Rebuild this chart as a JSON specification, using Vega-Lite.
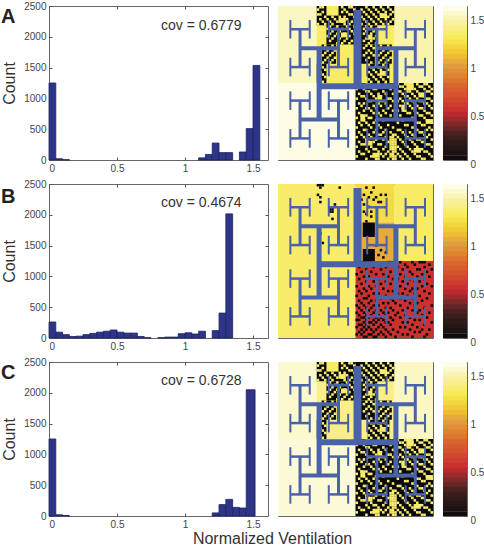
{"$schema":"https://vega.github.io/schema/vega-lite/v6.json","background":"white","padding":0,"bounds":"flush","spacing":{"row":24,"column":10},"columns":3,
"config":{"view":{"stroke":"#666666","strokeWidth":1},"font":"Liberation Sans","axis":{"grid":false,"domain":false,"tickColor":"#555555","tickSize":-3,"zindex":1,"labelFont":"Liberation Sans","labelFontSize":10,"labelColor":"#444444","titleFont":"Liberation Sans","titleFontWeight":"normal","titleFontSize":16,"titleColor":"#333333"}},
"datasets":{
"tree":[{"x":32.33,"x2":32.33,"y":1.16,"y2":32.88,"g":"0"},{"x":16.47,"x2":48.19,"y":32.88,"y2":32.88,"g":"1"},{"x":16.47,"x2":16.47,"y":17.02,"y2":46.67,"g":"2"},{"x":48.19,"x2":48.19,"y":17.02,"y2":46.67,"g":"2"},{"x":8.6,"x2":24.47,"y":17.02,"y2":17.02,"g":"3"},{"x":40.33,"x2":56.19,"y":17.02,"y2":17.02,"g":"3"},{"x":8.6,"x2":24.47,"y":46.67,"y2":46.67,"g":"3"},{"x":40.33,"x2":56.19,"y":46.67,"y2":46.67,"g":"3"},{"x":8.6,"x2":8.6,"y":9.16,"y2":24.88,"g":"4"},{"x":24.47,"x2":24.47,"y":9.16,"y2":24.88,"g":"4"},{"x":40.33,"x2":40.33,"y":9.16,"y2":24.88,"g":"4"},{"x":56.19,"x2":56.19,"y":9.16,"y2":24.88,"g":"4"},{"x":8.6,"x2":8.6,"y":38.81,"y2":54.53,"g":"4"},{"x":24.47,"x2":24.47,"y":38.81,"y2":54.53,"g":"4"},{"x":40.33,"x2":40.33,"y":38.81,"y2":54.53,"g":"4"},{"x":56.19,"x2":56.19,"y":38.81,"y2":54.53,"g":"4"},{"x":4.6,"x2":12.6,"y":9.16,"y2":9.16,"g":"5"},{"x":20.47,"x2":28.47,"y":9.16,"y2":9.16,"g":"5"},{"x":36.33,"x2":44.33,"y":9.16,"y2":9.16,"g":"5"},{"x":52.19,"x2":60.19,"y":9.16,"y2":9.16,"g":"5"},{"x":4.6,"x2":12.6,"y":24.88,"y2":24.88,"g":"5"},{"x":20.47,"x2":28.47,"y":24.88,"y2":24.88,"g":"5"},{"x":36.33,"x2":44.33,"y":24.88,"y2":24.88,"g":"5"},{"x":52.19,"x2":60.19,"y":24.88,"y2":24.88,"g":"5"},{"x":4.6,"x2":12.6,"y":38.81,"y2":38.81,"g":"5"},{"x":20.47,"x2":28.47,"y":38.81,"y2":38.81,"g":"5"},{"x":36.33,"x2":44.33,"y":38.81,"y2":38.81,"g":"5"},{"x":52.19,"x2":60.19,"y":38.81,"y2":38.81,"g":"5"},{"x":4.6,"x2":12.6,"y":54.53,"y2":54.53,"g":"5"},{"x":20.47,"x2":28.47,"y":54.53,"y2":54.53,"g":"5"},{"x":36.33,"x2":44.33,"y":54.53,"y2":54.53,"g":"5"},{"x":52.19,"x2":60.19,"y":54.53,"y2":54.53,"g":"5"},{"x":4.6,"x2":4.6,"y":5.29,"y2":13.02,"g":"6"},{"x":12.6,"x2":12.6,"y":5.29,"y2":13.02,"g":"6"},{"x":20.47,"x2":20.47,"y":5.29,"y2":13.02,"g":"6"},{"x":28.47,"x2":28.47,"y":5.29,"y2":13.02,"g":"6"},{"x":36.33,"x2":36.33,"y":5.29,"y2":13.02,"g":"6"},{"x":44.33,"x2":44.33,"y":5.29,"y2":13.02,"g":"6"},{"x":52.19,"x2":52.19,"y":5.29,"y2":13.02,"g":"6"},{"x":60.19,"x2":60.19,"y":5.29,"y2":13.02,"g":"6"},{"x":4.6,"x2":4.6,"y":21.02,"y2":28.74,"g":"6"},{"x":12.6,"x2":12.6,"y":21.02,"y2":28.74,"g":"6"},{"x":20.47,"x2":20.47,"y":21.02,"y2":28.74,"g":"6"},{"x":28.47,"x2":28.47,"y":21.02,"y2":28.74,"g":"6"},{"x":36.33,"x2":36.33,"y":21.02,"y2":28.74,"g":"6"},{"x":44.33,"x2":44.33,"y":21.02,"y2":28.74,"g":"6"},{"x":52.19,"x2":52.19,"y":21.02,"y2":28.74,"g":"6"},{"x":60.19,"x2":60.19,"y":21.02,"y2":28.74,"g":"6"},{"x":4.6,"x2":4.6,"y":34.95,"y2":42.67,"g":"6"},{"x":12.6,"x2":12.6,"y":34.95,"y2":42.67,"g":"6"},{"x":20.47,"x2":20.47,"y":34.95,"y2":42.67,"g":"6"},{"x":28.47,"x2":28.47,"y":34.95,"y2":42.67,"g":"6"},{"x":36.33,"x2":36.33,"y":34.95,"y2":42.67,"g":"6"},{"x":44.33,"x2":44.33,"y":34.95,"y2":42.67,"g":"6"},{"x":52.19,"x2":52.19,"y":34.95,"y2":42.67,"g":"6"},{"x":60.19,"x2":60.19,"y":34.95,"y2":42.67,"g":"6"},{"x":4.6,"x2":4.6,"y":50.67,"y2":58.4,"g":"6"},{"x":12.6,"x2":12.6,"y":50.67,"y2":58.4,"g":"6"},{"x":20.47,"x2":20.47,"y":50.67,"y2":58.4,"g":"6"},{"x":28.47,"x2":28.47,"y":50.67,"y2":58.4,"g":"6"},{"x":36.33,"x2":36.33,"y":50.67,"y2":58.4,"g":"6"},{"x":44.33,"x2":44.33,"y":50.67,"y2":58.4,"g":"6"},{"x":52.19,"x2":52.19,"y":50.67,"y2":58.4,"g":"6"},{"x":60.19,"x2":60.19,"y":50.67,"y2":58.4,"g":"6"}],
"bar":[{"a":0,"b":0.05,"v":0.025},{"a":0.05,"b":0.11,"v":0.075},{"a":0.1,"b":0.16,"v":0.125},{"a":0.15,"b":0.21,"v":0.175},{"a":0.2,"b":0.26,"v":0.225},{"a":0.25,"b":0.31,"v":0.275},{"a":0.3,"b":0.36,"v":0.325},{"a":0.35,"b":0.41,"v":0.375},{"a":0.4,"b":0.46,"v":0.425},{"a":0.45,"b":0.51,"v":0.475},{"a":0.5,"b":0.56,"v":0.525},{"a":0.55,"b":0.61,"v":0.575},{"a":0.6,"b":0.66,"v":0.625},{"a":0.65,"b":0.71,"v":0.675},{"a":0.7,"b":0.76,"v":0.725},{"a":0.75,"b":0.81,"v":0.775},{"a":0.8,"b":0.86,"v":0.825},{"a":0.85,"b":0.91,"v":0.875},{"a":0.9,"b":0.96,"v":0.925},{"a":0.95,"b":1.01,"v":0.975},{"a":1,"b":1.06,"v":1.025},{"a":1.05,"b":1.11,"v":1.075},{"a":1.1,"b":1.16,"v":1.125},{"a":1.15,"b":1.21,"v":1.175},{"a":1.2,"b":1.26,"v":1.225},{"a":1.25,"b":1.31,"v":1.275},{"a":1.3,"b":1.36,"v":1.325},{"a":1.35,"b":1.41,"v":1.375},{"a":1.4,"b":1.46,"v":1.425},{"a":1.45,"b":1.51,"v":1.475},{"a":1.5,"b":1.56,"v":1.525},{"a":1.55,"b":1.6,"v":1.575}],
"yellow":[{"x":17,"y":0},{"x":18,"y":0},{"x":26,"y":0},{"x":29,"y":0},{"x":30,"y":0},{"x":36,"y":0},{"x":39,"y":0},{"x":42,"y":0},{"x":45,"y":0},{"x":16,"y":1},{"x":27,"y":1},{"x":31,"y":1},{"x":34,"y":1},{"x":37,"y":1},{"x":40,"y":1},{"x":43,"y":1},{"x":46,"y":1},{"x":18,"y":2},{"x":26,"y":2},{"x":28,"y":2},{"x":35,"y":2},{"x":38,"y":2},{"x":41,"y":2},{"x":44,"y":2},{"x":47,"y":2},{"x":16,"y":3},{"x":17,"y":3},{"x":29,"y":3},{"x":30,"y":3},{"x":33,"y":3},{"x":36,"y":3},{"x":39,"y":3},{"x":42,"y":3},{"x":46,"y":3},{"x":19,"y":4},{"x":22,"y":4},{"x":25,"y":4},{"x":27,"y":4},{"x":31,"y":4},{"x":34,"y":4},{"x":37,"y":4},{"x":40,"y":4},{"x":43,"y":4},{"x":45,"y":4},{"x":17,"y":5},{"x":20,"y":5},{"x":23,"y":5},{"x":28,"y":5},{"x":35,"y":5},{"x":38,"y":5},{"x":41,"y":5},{"x":44,"y":5},{"x":47,"y":5},{"x":18,"y":6},{"x":21,"y":6},{"x":24,"y":6},{"x":26,"y":6},{"x":30,"y":6},{"x":33,"y":6},{"x":36,"y":6},{"x":39,"y":6},{"x":42,"y":6},{"x":46,"y":6},{"x":16,"y":7},{"x":19,"y":7},{"x":22,"y":7},{"x":27,"y":7},{"x":29,"y":7},{"x":34,"y":7},{"x":37,"y":7},{"x":40,"y":7},{"x":43,"y":7},{"x":45,"y":7},{"x":21,"y":8},{"x":24,"y":8},{"x":28,"y":8},{"x":31,"y":8},{"x":36,"y":8},{"x":38,"y":8},{"x":20,"y":9},{"x":23,"y":9},{"x":26,"y":9},{"x":29,"y":9},{"x":35,"y":9},{"x":37,"y":9},{"x":40,"y":9},{"x":22,"y":10},{"x":25,"y":10},{"x":30,"y":10},{"x":36,"y":10},{"x":39,"y":10},{"x":21,"y":11},{"x":24,"y":11},{"x":27,"y":11},{"x":31,"y":11},{"x":35,"y":11},{"x":38,"y":11},{"x":20,"y":12},{"x":23,"y":12},{"x":26,"y":12},{"x":29,"y":12},{"x":37,"y":12},{"x":40,"y":12},{"x":22,"y":13},{"x":25,"y":13},{"x":28,"y":13},{"x":36,"y":13},{"x":39,"y":13},{"x":21,"y":14},{"x":27,"y":14},{"x":30,"y":14},{"x":35,"y":14},{"x":38,"y":14},{"x":24,"y":15},{"x":26,"y":15},{"x":29,"y":15},{"x":37,"y":15},{"x":40,"y":15},{"x":19,"y":16},{"x":22,"y":16},{"x":36,"y":16},{"x":38,"y":16},{"x":42,"y":16},{"x":45,"y":16},{"x":18,"y":17},{"x":21,"y":17},{"x":35,"y":17},{"x":39,"y":17},{"x":41,"y":17},{"x":44,"y":17},{"x":20,"y":18},{"x":23,"y":18},{"x":37,"y":18},{"x":43,"y":18},{"x":46,"y":18},{"x":19,"y":19},{"x":22,"y":19},{"x":36,"y":19},{"x":38,"y":19},{"x":42,"y":19},{"x":45,"y":19},{"x":18,"y":20},{"x":21,"y":20},{"x":35,"y":20},{"x":39,"y":20},{"x":41,"y":20},{"x":44,"y":20},{"x":20,"y":21},{"x":23,"y":21},{"x":37,"y":21},{"x":43,"y":21},{"x":46,"y":21},{"x":19,"y":22},{"x":22,"y":22},{"x":36,"y":22},{"x":42,"y":22},{"x":45,"y":22},{"x":18,"y":23},{"x":21,"y":23},{"x":38,"y":23},{"x":41,"y":23},{"x":44,"y":23},{"x":17,"y":24},{"x":37,"y":24},{"x":40,"y":24},{"x":43,"y":24},{"x":16,"y":25},{"x":18,"y":25},{"x":38,"y":25},{"x":41,"y":25},{"x":44,"y":25},{"x":19,"y":26},{"x":39,"y":26},{"x":42,"y":26},{"x":45,"y":26},{"x":17,"y":27},{"x":37,"y":27},{"x":40,"y":27},{"x":43,"y":27},{"x":16,"y":28},{"x":18,"y":28},{"x":38,"y":28},{"x":41,"y":28},{"x":44,"y":28},{"x":19,"y":29},{"x":39,"y":29},{"x":42,"y":29},{"x":45,"y":29},{"x":17,"y":30},{"x":37,"y":30},{"x":40,"y":30},{"x":43,"y":30},{"x":16,"y":31},{"x":18,"y":31},{"x":38,"y":31},{"x":41,"y":31},{"x":44,"y":31},
{"x":33,"y":32},{"x":36,"y":32},{"x":37,"y":32},{"x":41,"y":32},{"x":44,"y":32},{"x":48,"y":32},{"x":49,"y":32},{"x":52,"y":32},{"x":53,"y":32},{"x":54,"y":32},{"x":57,"y":32},{"x":60,"y":32},{"x":61,"y":32},{"x":34,"y":33},{"x":38,"y":33},{"x":42,"y":33},{"x":45,"y":33},{"x":50,"y":33},{"x":51,"y":33},{"x":55,"y":33},{"x":58,"y":33},{"x":59,"y":33},{"x":62,"y":33},{"x":32,"y":34},{"x":35,"y":34},{"x":39,"y":34},{"x":40,"y":34},{"x":46,"y":34},{"x":48,"y":34},{"x":52,"y":34},{"x":56,"y":34},{"x":60,"y":34},{"x":63,"y":34},{"x":36,"y":35},{"x":37,"y":35},{"x":43,"y":35},{"x":49,"y":35},{"x":50,"y":35},{"x":53,"y":35},{"x":54,"y":35},{"x":57,"y":35},{"x":61,"y":35},{"x":62,"y":35},{"x":33,"y":36},{"x":38,"y":36},{"x":41,"y":36},{"x":44,"y":36},{"x":47,"y":36},{"x":51,"y":36},{"x":55,"y":36},{"x":58,"y":36},{"x":59,"y":36},{"x":63,"y":36},{"x":34,"y":37},{"x":35,"y":37},{"x":39,"y":37},{"x":42,"y":37},{"x":48,"y":37},{"x":52,"y":37},{"x":53,"y":37},{"x":56,"y":37},{"x":60,"y":37},{"x":32,"y":38},{"x":36,"y":38},{"x":40,"y":38},{"x":45,"y":38},{"x":46,"y":38},{"x":50,"y":38},{"x":54,"y":38},{"x":57,"y":38},{"x":61,"y":38},{"x":62,"y":38},{"x":37,"y":39},{"x":38,"y":39},{"x":43,"y":39},{"x":47,"y":39},{"x":49,"y":39},{"x":51,"y":39},{"x":55,"y":39},{"x":58,"y":39},{"x":59,"y":39},{"x":63,"y":39},{"x":33,"y":40},{"x":35,"y":40},{"x":41,"y":40},{"x":44,"y":40},{"x":52,"y":40},{"x":53,"y":40},{"x":56,"y":40},{"x":60,"y":40},{"x":61,"y":40},{"x":34,"y":41},{"x":39,"y":41},{"x":42,"y":41},{"x":46,"y":41},{"x":48,"y":41},{"x":50,"y":41},{"x":54,"y":41},{"x":57,"y":41},{"x":62,"y":41},{"x":32,"y":42},{"x":36,"y":42},{"x":37,"y":42},{"x":40,"y":42},{"x":45,"y":42},{"x":51,"y":42},{"x":55,"y":42},{"x":58,"y":42},{"x":59,"y":42},{"x":63,"y":42},{"x":35,"y":43},{"x":38,"y":43},{"x":43,"y":43},{"x":47,"y":43},{"x":49,"y":43},{"x":52,"y":43},{"x":56,"y":43},{"x":60,"y":43},{"x":33,"y":44},{"x":39,"y":44},{"x":41,"y":44},{"x":44,"y":44},{"x":53,"y":44},{"x":54,"y":44},{"x":57,"y":44},{"x":61,"y":44},{"x":62,"y":44},{"x":34,"y":45},{"x":36,"y":45},{"x":42,"y":45},{"x":46,"y":45},{"x":50,"y":45},{"x":58,"y":45},{"x":59,"y":45},{"x":63,"y":45},{"x":32,"y":46},{"x":37,"y":46},{"x":38,"y":46},{"x":55,"y":46},{"x":60,"y":46},{"x":35,"y":47},{"x":40,"y":47},{"x":43,"y":47},{"x":51,"y":47},{"x":56,"y":47},{"x":61,"y":47},{"x":62,"y":47},{"x":33,"y":48},{"x":36,"y":48},{"x":39,"y":48},{"x":49,"y":48},{"x":57,"y":48},{"x":58,"y":48},{"x":63,"y":48},{"x":34,"y":49},{"x":37,"y":49},{"x":41,"y":49},{"x":45,"y":49},{"x":52,"y":49},{"x":53,"y":49},{"x":59,"y":49},{"x":60,"y":49},{"x":32,"y":50},{"x":38,"y":50},{"x":42,"y":50},{"x":47,"y":50},{"x":55,"y":50},{"x":56,"y":50},{"x":62,"y":50},{"x":35,"y":51},{"x":36,"y":51},{"x":40,"y":51},{"x":44,"y":51},{"x":49,"y":51},{"x":50,"y":51},{"x":57,"y":51},{"x":61,"y":51},{"x":63,"y":51},{"x":33,"y":52},{"x":39,"y":52},{"x":43,"y":52},{"x":46,"y":52},{"x":51,"y":52},{"x":54,"y":52},{"x":58,"y":52},{"x":59,"y":52},{"x":34,"y":53},{"x":37,"y":53},{"x":41,"y":53},{"x":42,"y":53},{"x":47,"y":53},{"x":48,"y":53},{"x":52,"y":53},{"x":55,"y":53},{"x":60,"y":53},{"x":62,"y":53},{"x":32,"y":54},{"x":35,"y":54},{"x":38,"y":54},{"x":44,"y":54},{"x":46,"y":54},{"x":47,"y":54},{"x":49,"y":54},{"x":53,"y":54},{"x":56,"y":54},{"x":61,"y":54},{"x":36,"y":55},{"x":40,"y":55},{"x":43,"y":55},{"x":46,"y":55},{"x":47,"y":55},{"x":48,"y":55},{"x":50,"y":55},{"x":54,"y":55},{"x":57,"y":55},{"x":58,"y":55},{"x":63,"y":55},{"x":33,"y":56},{"x":37,"y":56},{"x":39,"y":56},{"x":45,"y":56},{"x":46,"y":56},{"x":47,"y":56},{"x":48,"y":56},{"x":51,"y":56},{"x":55,"y":56},{"x":59,"y":56},{"x":60,"y":56},{"x":34,"y":57},{"x":35,"y":57},{"x":41,"y":57},{"x":42,"y":57},{"x":46,"y":57},{"x":47,"y":57},{"x":48,"y":57},{"x":52,"y":57},{"x":56,"y":57},{"x":61,"y":57},{"x":62,"y":57},{"x":32,"y":58},{"x":38,"y":58},{"x":44,"y":58},{"x":46,"y":58},{"x":47,"y":58},{"x":48,"y":58},{"x":49,"y":58},{"x":53,"y":58},{"x":57,"y":58},{"x":63,"y":58},{"x":36,"y":59},{"x":39,"y":59},{"x":40,"y":59},{"x":43,"y":59},{"x":46,"y":59},{"x":47,"y":59},{"x":48,"y":59},{"x":50,"y":59},{"x":54,"y":59},{"x":58,"y":59},{"x":59,"y":59},{"x":33,"y":60},{"x":37,"y":60},{"x":41,"y":60},{"x":45,"y":60},{"x":47,"y":60},{"x":48,"y":60},{"x":51,"y":60},{"x":55,"y":60},{"x":60,"y":60},{"x":61,"y":60},{"x":34,"y":61},{"x":35,"y":61},{"x":42,"y":61},{"x":44,"y":61},{"x":46,"y":61},{"x":47,"y":61},{"x":49,"y":61},{"x":52,"y":61},{"x":56,"y":61},{"x":62,"y":61},{"x":32,"y":62},{"x":38,"y":62},{"x":39,"y":62},{"x":43,"y":62},{"x":46,"y":62},{"x":47,"y":62},{"x":48,"y":62},{"x":50,"y":62},{"x":53,"y":62},{"x":57,"y":62},{"x":58,"y":62},{"x":63,"y":62},{"x":36,"y":63},{"x":40,"y":63},{"x":41,"y":63},{"x":45,"y":63},{"x":47,"y":63},{"x":48,"y":63},{"x":51,"y":63},{"x":54,"y":63},{"x":59,"y":63},{"x":60,"y":63}],
"black":[{"x":16,"y":0},{"x":17,"y":0},{"x":18,"y":0},{"x":17,"y":1},{"x":25,"y":1},{"x":16,"y":4},{"x":17,"y":5},{"x":17,"y":7},{"x":23,"y":8},{"x":21,"y":10},{"x":22,"y":10},{"x":21,"y":11},{"x":22,"y":11},{"x":22,"y":14},{"x":17,"y":20},{"x":18,"y":24},{"x":36,"y":1},{"x":39,"y":1},{"x":38,"y":3},{"x":40,"y":5},{"x":42,"y":4},{"x":39,"y":6},{"x":42,"y":7},{"x":35,"y":4},{"x":34,"y":6},{"x":35,"y":8},{"x":38,"y":11},{"x":36,"y":12},{"x":38,"y":13},{"x":36,"y":15},{"x":37,"y":9},{"x":37,"y":5},{"x":35,"y":11},{"x":41,"y":7},{"x":44,"y":4},{"x":33,"y":3},{"x":40,"y":25},{"x":42,"y":27},{"x":44,"y":28},{"x":41,"y":29},{"x":43,"y":30},
{"x":34,"y":32},{"x":35,"y":32},{"x":36,"y":32},{"x":37,"y":32},{"x":38,"y":32},{"x":45,"y":32},{"x":46,"y":32},{"x":47,"y":32},{"x":50,"y":32},{"x":55,"y":32},{"x":58,"y":32},{"x":59,"y":32},{"x":60,"y":32},{"x":35,"y":33},{"x":41,"y":33},{"x":47,"y":33},{"x":52,"y":33},{"x":56,"y":33},{"x":62,"y":33},{"x":33,"y":34},{"x":39,"y":34},{"x":44,"y":34},{"x":49,"y":34},{"x":53,"y":34},{"x":60,"y":34},{"x":36,"y":35},{"x":42,"y":35},{"x":51,"y":35},{"x":57,"y":35},{"x":58,"y":35},{"x":63,"y":35},{"x":34,"y":36},{"x":38,"y":36},{"x":46,"y":36},{"x":48,"y":36},{"x":54,"y":36},{"x":61,"y":36},{"x":32,"y":37},{"x":40,"y":37},{"x":43,"y":37},{"x":50,"y":37},{"x":55,"y":37},{"x":59,"y":37},{"x":35,"y":38},{"x":37,"y":38},{"x":45,"y":38},{"x":52,"y":38},{"x":57,"y":38},{"x":62,"y":38},{"x":33,"y":39},{"x":41,"y":39},{"x":47,"y":39},{"x":49,"y":39},{"x":54,"y":39},{"x":60,"y":39},{"x":36,"y":40},{"x":39,"y":40},{"x":44,"y":40},{"x":51,"y":40},{"x":56,"y":40},{"x":58,"y":40},{"x":34,"y":41},{"x":42,"y":41},{"x":46,"y":41},{"x":53,"y":41},{"x":61,"y":41},{"x":32,"y":42},{"x":37,"y":42},{"x":40,"y":42},{"x":48,"y":42},{"x":50,"y":42},{"x":59,"y":42},{"x":63,"y":42},{"x":35,"y":43},{"x":38,"y":43},{"x":43,"y":43},{"x":52,"y":43},{"x":55,"y":43},{"x":57,"y":43},{"x":33,"y":44},{"x":36,"y":44},{"x":45,"y":44},{"x":47,"y":44},{"x":54,"y":44},{"x":60,"y":44},{"x":34,"y":45},{"x":39,"y":45},{"x":41,"y":45},{"x":49,"y":45},{"x":51,"y":45},{"x":56,"y":45},{"x":62,"y":45},{"x":32,"y":46},{"x":37,"y":46},{"x":44,"y":46},{"x":53,"y":46},{"x":58,"y":46},{"x":35,"y":47},{"x":36,"y":47},{"x":42,"y":47},{"x":46,"y":47},{"x":50,"y":47},{"x":55,"y":47},{"x":61,"y":47},{"x":33,"y":48},{"x":38,"y":48},{"x":40,"y":48},{"x":47,"y":48},{"x":52,"y":48},{"x":59,"y":48},{"x":34,"y":49},{"x":37,"y":49},{"x":43,"y":49},{"x":45,"y":49},{"x":48,"y":49},{"x":54,"y":49},{"x":57,"y":49},{"x":32,"y":50},{"x":35,"y":50},{"x":39,"y":50},{"x":41,"y":50},{"x":50,"y":50},{"x":56,"y":50},{"x":63,"y":50},{"x":33,"y":51},{"x":36,"y":51},{"x":38,"y":51},{"x":44,"y":51},{"x":46,"y":51},{"x":53,"y":51},{"x":60,"y":51},{"x":34,"y":52},{"x":37,"y":52},{"x":40,"y":52},{"x":42,"y":52},{"x":47,"y":52},{"x":51,"y":52},{"x":55,"y":52},{"x":58,"y":52},{"x":32,"y":53},{"x":35,"y":53},{"x":39,"y":53},{"x":43,"y":53},{"x":45,"y":53},{"x":49,"y":53},{"x":57,"y":53},{"x":62,"y":53},{"x":33,"y":54},{"x":36,"y":54},{"x":38,"y":54},{"x":41,"y":54},{"x":44,"y":54},{"x":48,"y":54},{"x":52,"y":54},{"x":59,"y":54},{"x":34,"y":55},{"x":35,"y":55},{"x":37,"y":55},{"x":40,"y":55},{"x":42,"y":55},{"x":46,"y":55},{"x":50,"y":55},{"x":54,"y":55},{"x":61,"y":55},{"x":32,"y":56},{"x":33,"y":56},{"x":36,"y":56},{"x":39,"y":56},{"x":41,"y":56},{"x":43,"y":56},{"x":47,"y":56},{"x":56,"y":56},{"x":58,"y":56},{"x":35,"y":57},{"x":37,"y":57},{"x":38,"y":57},{"x":40,"y":57},{"x":44,"y":57},{"x":45,"y":57},{"x":51,"y":57},{"x":53,"y":57},{"x":63,"y":57},{"x":33,"y":58},{"x":34,"y":58},{"x":36,"y":58},{"x":39,"y":58},{"x":42,"y":58},{"x":46,"y":58},{"x":55,"y":58},{"x":60,"y":58},{"x":32,"y":59},{"x":35,"y":59},{"x":37,"y":59},{"x":41,"y":59},{"x":43,"y":59},{"x":50,"y":59},{"x":52,"y":59},{"x":57,"y":59},{"x":34,"y":60},{"x":36,"y":60},{"x":38,"y":60},{"x":40,"y":60},{"x":44,"y":60},{"x":47,"y":60},{"x":54,"y":60},{"x":59,"y":60},{"x":62,"y":60},{"x":33,"y":61},{"x":35,"y":61},{"x":39,"y":61},{"x":42,"y":61},{"x":45,"y":61},{"x":49,"y":61},{"x":56,"y":61},{"x":58,"y":61},{"x":32,"y":62},{"x":34,"y":62},{"x":37,"y":62},{"x":38,"y":62},{"x":41,"y":62},{"x":43,"y":62},{"x":46,"y":62},{"x":51,"y":62},{"x":53,"y":62},{"x":61,"y":62},{"x":35,"y":63},{"x":36,"y":63},{"x":39,"y":63},{"x":40,"y":63},{"x":44,"y":63},{"x":48,"y":63},{"x":55,"y":63},{"x":60,"y":63}],
"blockAC":[{"x":15.5,"x2":31.5,"y":-0.5,"y2":7.5,"v":0},{"x":31.5,"x2":47.5,"y":-0.5,"y2":7.5,"v":0},{"x":19.5,"x2":31.5,"y":7.5,"y2":15.5,"v":0},{"x":31.5,"x2":40.5,"y":7.5,"y2":15.5,"v":0},{"x":17.5,"x2":23.5,"y":15.5,"y2":23.5,"v":0},{"x":31.5,"x2":39.5,"y":15.5,"y2":23.5,"v":0},{"x":40.5,"x2":46.5,"y":15.5,"y2":23.5,"v":0},{"x":15.5,"x2":19.5,"y":23.5,"y2":31.5,"v":0},{"x":36.5,"x2":45.5,"y":23.5,"y2":31.5,"v":0},{"x":31.5,"x2":63.5,"y":31.5,"y2":63.5,"v":0},{"x":19.5,"x2":24.5,"y":-0.5,"y2":3.5,"v":1.3},{"x":52.5,"x2":55.5,"y":31.5,"y2":34.5,"v":1.3},{"x":57.5,"x2":60.5,"y":35.5,"y2":37.5,"v":1.3},{"x":50.5,"x2":52.5,"y":40.5,"y2":43.5,"v":1.3},{"x":60.5,"x2":63.5,"y":46.5,"y2":48.5,"v":1.3},{"x":35.5,"x2":38.5,"y":55.5,"y2":57.5,"v":1.3},{"x":40.5,"x2":42.5,"y":36.5,"y2":39.5,"v":1.3},{"x":33.5,"x2":35.5,"y":44.5,"y2":47.5,"v":1.3},{"x":38.5,"x2":41.5,"y":60.5,"y2":62.5,"v":1.3},{"x":55.5,"x2":58.5,"y":58.5,"y2":60.5,"v":1.3},{"x":24.5,"x2":27.5,"y":4.5,"y2":6.5,"v":1.3},{"x":41.5,"x2":44.5,"y":2.5,"y2":4.5,"v":1.3},{"x":25.5,"x2":28.5,"y":10.5,"y2":12.5,"v":1.3},{"x":41.5,"x2":44.5,"y":26.5,"y2":28.5,"v":1.3},{"x":36.5,"x2":38.5,"y":11.5,"y2":13.5,"v":1.3}]
},
"concat":[
{"width":219,"height":154,"layer":[
{"data":{"values":[{"a":0,"b":0.05,"n":1250},{"a":0.05,"b":0.1,"n":20},{"a":0.1,"b":0.15,"n":5},{"a":1.1,"b":1.15,"n":35},{"a":1.15,"b":1.2,"n":90},{"a":1.2,"b":1.25,"n":275},{"a":1.25,"b":1.3,"n":120},{"a":1.3,"b":1.35,"n":120},{"a":1.4,"b":1.45,"n":130},{"a":1.45,"b":1.5,"n":510},{"a":1.5,"b":1.55,"n":1535}]},
"mark":{"type":"bar","color":"#2e3588","stroke":"#1c2260","strokeWidth":0.8},
"encoding":{"x":{"field":"a","type":"quantitative","scale":{"domain":[0,1.61]},"axis":{"title":null,"values":[0,0.5,1,1.5],"format":"~g","labelPadding":6}},"x2":{"field":"b"},"y":{"field":"n","type":"quantitative","scale":{"domain":[0,2500]},"axis":{"title":"Count","values":[0,500,1000,1500,2000,2500],"format":"d","labelPadding":6,"titlePadding":6}},"y2":{"datum":0}}},
{"data":{"values":[{"x":0.824,"y":2110,"t":"cov = 0.6779"}]},"mark":{"type":"text","align":"left","baseline":"alphabetic","fontSize":14,"color":"#333333"},"encoding":{"x":{"field":"x","type":"quantitative","scale":{"domain":[0,1.61]},"axis":{"orient":"top","labels":false,"title":null,"values":[0,0.5,1,1.5]}},"y":{"field":"y","type":"quantitative","scale":{"domain":[0,2500]},"axis":{"orient":"right","labels":false,"title":null,"values":[500,1000,1500,2000]}},"text":{"field":"t"}}},
{"data":{"values":[{"x":-0.353,"y":2224,"t":"A"}]},"mark":{"type":"text","align":"left","baseline":"alphabetic","fontSize":20,"fontWeight":"bold","color":"#222222"},"encoding":{"x":{"field":"x","type":"quantitative","scale":{"domain":[0,1.61]},"axis":null},"y":{"field":"y","type":"quantitative","scale":{"domain":[0,2500]},"axis":null},"text":{"field":"t"}}}
],"resolve":{"axis":{"x":"independent","y":"independent"}}},
{"width":155,"height":154,"layer":[
{"data":{"values":[{"x":-0.5,"x2":15.5,"y":-0.5,"y2":31.5,"v":1.5},{"x":-0.5,"x2":31.5,"y":31.5,"y2":63.5,"v":1.57},{"x":47.5,"x2":63.5,"y":-0.5,"y2":31.5,"v":1.46},{"x":15.5,"x2":47.5,"y":-0.5,"y2":31.5,"v":1.3}]},
"mark":{"type":"rect"},"encoding":{"x":{"field":"x","type":"quantitative","scale":{"domain":[-0.5,63.5]},"axis":null},"x2":{"field":"x2"},"y":{"field":"y","type":"quantitative","scale":{"domain":[-0.5,63.5],"reverse":true},"axis":null},"y2":{"field":"y2"},"color":{"field":"v","type":"quantitative","legend":null,"scale":{"domain":[0,0.26,0.5,0.75,0.99,1.09,1.26,1.43,1.6],"range":["#0a0a0a","#40201f","#c82a30","#d8602c","#e0a040","#f0c030","#f7ea50","#f9f0a0","#fffff5"]}}}},
{"data":{"name":"blockAC"},"mark":{"type":"rect"},"encoding":{"x":{"field":"x","type":"quantitative","scale":{"domain":[-0.5,63.5]},"axis":null},"x2":{"field":"x2"},"y":{"field":"y","type":"quantitative","scale":{"domain":[-0.5,63.5],"reverse":true},"axis":null},"y2":{"field":"y2"},"color":{"field":"v","type":"quantitative","legend":null}}},
{"data":{"name":"yellow"},"mark":{"type":"square","size":6.5,"opacity":1},"encoding":{"x":{"field":"x","type":"quantitative","scale":{"domain":[-0.5,63.5]},"axis":null},"y":{"field":"y","type":"quantitative","scale":{"domain":[-0.5,63.5],"reverse":true},"axis":null},"color":{"datum":1.3,"type":"quantitative","legend":null}}},
{"data":{"name":"tree"},"mark":{"type":"rule","color":"#4a62a8"},"encoding":{"x":{"field":"x","type":"quantitative","scale":{"domain":[-0.5,63.5]},"axis":null},"x2":{"field":"x2"},"y":{"field":"y","type":"quantitative","scale":{"domain":[-0.5,63.5],"reverse":true},"axis":null},"y2":{"field":"y2"},"size":{"field":"g","type":"ordinal","legend":null,"scale":{"type":"ordinal","domain":["0","1","2","3","4","5","6"],"range":[8,6,5,4,3,2.5,2]}}}}
]},
{"width":24,"height":154,"data":{"name":"bar"},"mark":{"type":"rect"},"encoding":{"y":{"field":"a","type":"quantitative","scale":{"domain":[0,1.6]},"axis":{"orient":"right","title":null,"values":[0,0.5,1,1.5],"format":"~g","labelOffset":4.5,"labelPadding":6}},"y2":{"field":"b"},"color":{"field":"v","type":"quantitative","legend":null,"scale":{"domain":[0,0.26,0.5,0.75,0.99,1.09,1.26,1.43,1.6],"range":["#0a0a0a","#40201f","#c82a30","#d8602c","#e0a040","#f0c030","#f7ea50","#f9f0a0","#fffff5"]}}}},
{"width":219,"height":154,"layer":[
{"data":{"values":[{"a":0,"b":0.05,"n":260},{"a":0.05,"b":0.1,"n":95},{"a":0.1,"b":0.15,"n":55},{"a":0.15,"b":0.2,"n":25},{"a":0.2,"b":0.25,"n":30},{"a":0.25,"b":0.3,"n":55},{"a":0.3,"b":0.35,"n":75},{"a":0.35,"b":0.4,"n":95},{"a":0.4,"b":0.45,"n":110},{"a":0.45,"b":0.5,"n":130},{"a":0.5,"b":0.55,"n":95},{"a":0.55,"b":0.6,"n":80},{"a":0.6,"b":0.65,"n":80},{"a":0.65,"b":0.7,"n":25},{"a":0.7,"b":0.75,"n":5},{"a":0.8,"b":0.85,"n":5},{"a":0.85,"b":0.9,"n":15},{"a":0.9,"b":0.95,"n":15},{"a":0.95,"b":1,"n":70},{"a":1,"b":1.05,"n":85},{"a":1.05,"b":1.1,"n":65},{"a":1.1,"b":1.15,"n":110},{"a":1.2,"b":1.25,"n":120},{"a":1.25,"b":1.3,"n":405},{"a":1.3,"b":1.35,"n":2015}]},
"mark":{"type":"bar","color":"#2e3588","stroke":"#1c2260","strokeWidth":0.8},
"encoding":{"x":{"field":"a","type":"quantitative","scale":{"domain":[0,1.61]},"axis":{"title":null,"values":[0,0.5,1,1.5],"format":"~g","labelPadding":6}},"x2":{"field":"b"},"y":{"field":"n","type":"quantitative","scale":{"domain":[0,2500]},"axis":{"title":"Count","values":[0,500,1000,1500,2000,2500],"format":"d","labelPadding":6,"titlePadding":6}},"y2":{"datum":0}}},
{"data":{"values":[{"x":0.824,"y":2127,"t":"cov = 0.4674"}]},"mark":{"type":"text","align":"left","baseline":"alphabetic","fontSize":14,"color":"#333333"},"encoding":{"x":{"field":"x","type":"quantitative","scale":{"domain":[0,1.61]},"axis":{"orient":"top","labels":false,"title":null,"values":[0,0.5,1,1.5]}},"y":{"field":"y","type":"quantitative","scale":{"domain":[0,2500]},"axis":{"orient":"right","labels":false,"title":null,"values":[500,1000,1500,2000]}},"text":{"field":"t"}}},
{"data":{"values":[{"x":-0.353,"y":2198,"t":"B"}]},"mark":{"type":"text","align":"left","baseline":"alphabetic","fontSize":20,"fontWeight":"bold","color":"#222222"},"encoding":{"x":{"field":"x","type":"quantitative","scale":{"domain":[0,1.61]},"axis":null},"y":{"field":"y","type":"quantitative","scale":{"domain":[0,2500]},"axis":null},"text":{"field":"t"}}}
],"resolve":{"axis":{"x":"independent","y":"independent"}}},
{"width":155,"height":154,"layer":[
{"data":{"values":[{"x":-0.5,"x2":31.5,"y":-0.5,"y2":63.5,"v":1.31},{"x":47.5,"x2":63.5,"y":-0.5,"y2":31.5,"v":1.3},{"x":31.5,"x2":47.5,"y":-0.5,"y2":15.5,"v":1.2},{"x":31.5,"x2":47.5,"y":15.5,"y2":31.5,"v":1.02},{"x":34.5,"x2":39.5,"y":15.5,"y2":21.5,"v":0},{"x":34.5,"x2":39.5,"y":26.5,"y2":31.5,"v":0},{"x":31.5,"x2":63.5,"y":31.5,"y2":63.5,"v":0.53}]},
"mark":{"type":"rect"},"encoding":{"x":{"field":"x","type":"quantitative","scale":{"domain":[-0.5,63.5]},"axis":null},"x2":{"field":"x2"},"y":{"field":"y","type":"quantitative","scale":{"domain":[-0.5,63.5],"reverse":true},"axis":null},"y2":{"field":"y2"},"color":{"field":"v","type":"quantitative","legend":null,"scale":{"domain":[0,0.26,0.5,0.75,0.99,1.09,1.26,1.43,1.6],"range":["#0a0a0a","#40201f","#c82a30","#d8602c","#e0a040","#f0c030","#f7ea50","#f9f0a0","#fffff5"]}}}},
{"data":{"name":"black"},"mark":{"type":"square","size":6.5,"opacity":1},"encoding":{"x":{"field":"x","type":"quantitative","scale":{"domain":[-0.5,63.5]},"axis":null},"y":{"field":"y","type":"quantitative","scale":{"domain":[-0.5,63.5],"reverse":true},"axis":null},"color":{"datum":0,"type":"quantitative","legend":null}}},
{"data":{"name":"tree"},"mark":{"type":"rule","color":"#4a62a8"},"encoding":{"x":{"field":"x","type":"quantitative","scale":{"domain":[-0.5,63.5]},"axis":null},"x2":{"field":"x2"},"y":{"field":"y","type":"quantitative","scale":{"domain":[-0.5,63.5],"reverse":true},"axis":null},"y2":{"field":"y2"},"size":{"field":"g","type":"ordinal","legend":null,"scale":{"type":"ordinal","domain":["0","1","2","3","4","5","6"],"range":[8,6,5,4,3,2.5,2]}}}}
]},
{"width":24,"height":154,"data":{"name":"bar"},"mark":{"type":"rect"},"encoding":{"y":{"field":"a","type":"quantitative","scale":{"domain":[0,1.6]},"axis":{"orient":"right","title":null,"values":[0,0.5,1,1.5],"format":"~g","labelOffset":4.5,"labelPadding":6}},"y2":{"field":"b"},"color":{"field":"v","type":"quantitative","legend":null,"scale":{"domain":[0,0.26,0.5,0.75,0.99,1.09,1.26,1.43,1.6],"range":["#0a0a0a","#40201f","#c82a30","#d8602c","#e0a040","#f0c030","#f7ea50","#f9f0a0","#fffff5"]}}}},
{"width":219,"height":154,"layer":[
{"data":{"values":[{"a":0,"b":0.05,"n":1250},{"a":0.05,"b":0.1,"n":20},{"a":0.1,"b":0.15,"n":8},{"a":1.2,"b":1.25,"n":50},{"a":1.25,"b":1.3,"n":185},{"a":1.3,"b":1.35,"n":270},{"a":1.35,"b":1.4,"n":140},{"a":1.4,"b":1.45,"n":130},{"a":1.45,"b":1.515,"n":2050}]},
"mark":{"type":"bar","color":"#2e3588","stroke":"#1c2260","strokeWidth":0.8},
"encoding":{"x":{"field":"a","type":"quantitative","scale":{"domain":[0,1.61]},"axis":{"title":"Normalized Ventilation","titleX":223,"titleY":27.5,"titleBaseline":"alphabetic","values":[0,0.5,1,1.5],"format":"~g","labelPadding":6}},"x2":{"field":"b"},"y":{"field":"n","type":"quantitative","scale":{"domain":[0,2500]},"axis":{"title":"Count","values":[0,500,1000,1500,2000,2500],"format":"d","labelPadding":6,"titlePadding":6}},"y2":{"datum":0}}},
{"data":{"values":[{"x":0.824,"y":2127,"t":"cov = 0.6728"}]},"mark":{"type":"text","align":"left","baseline":"alphabetic","fontSize":14,"color":"#333333"},"encoding":{"x":{"field":"x","type":"quantitative","scale":{"domain":[0,1.61]},"axis":{"orient":"top","labels":false,"title":null,"values":[0,0.5,1,1.5]}},"y":{"field":"y","type":"quantitative","scale":{"domain":[0,2500]},"axis":{"orient":"right","labels":false,"title":null,"values":[500,1000,1500,2000]}},"text":{"field":"t"}}},
{"data":{"values":[{"x":-0.353,"y":2224,"t":"C"}]},"mark":{"type":"text","align":"left","baseline":"alphabetic","fontSize":20,"fontWeight":"bold","color":"#222222"},"encoding":{"x":{"field":"x","type":"quantitative","scale":{"domain":[0,1.61]},"axis":null},"y":{"field":"y","type":"quantitative","scale":{"domain":[0,2500]},"axis":null},"text":{"field":"t"}}}
],"resolve":{"axis":{"x":"independent","y":"independent"}}},
{"width":155,"height":154,"layer":[
{"data":{"values":[{"x":-0.5,"x2":15.5,"y":-0.5,"y2":31.5,"v":1.52},{"x":-0.5,"x2":31.5,"y":31.5,"y2":63.5,"v":1.54},{"x":47.5,"x2":63.5,"y":-0.5,"y2":31.5,"v":1.5},{"x":15.5,"x2":47.5,"y":-0.5,"y2":31.5,"v":1.38}]},
"mark":{"type":"rect"},"encoding":{"x":{"field":"x","type":"quantitative","scale":{"domain":[-0.5,63.5]},"axis":null},"x2":{"field":"x2"},"y":{"field":"y","type":"quantitative","scale":{"domain":[-0.5,63.5],"reverse":true},"axis":null},"y2":{"field":"y2"},"color":{"field":"v","type":"quantitative","legend":null,"scale":{"domain":[0,0.26,0.5,0.75,0.99,1.09,1.26,1.43,1.6],"range":["#0a0a0a","#40201f","#c82a30","#d8602c","#e0a040","#f0c030","#f7ea50","#f9f0a0","#fffff5"]}}}},
{"data":{"name":"blockAC"},"mark":{"type":"rect"},"encoding":{"x":{"field":"x","type":"quantitative","scale":{"domain":[-0.5,63.5]},"axis":null},"x2":{"field":"x2"},"y":{"field":"y","type":"quantitative","scale":{"domain":[-0.5,63.5],"reverse":true},"axis":null},"y2":{"field":"y2"},"color":{"field":"v","type":"quantitative","legend":null}}},
{"data":{"name":"yellow"},"mark":{"type":"square","size":6.5,"opacity":1},"encoding":{"x":{"field":"x","type":"quantitative","scale":{"domain":[-0.5,63.5]},"axis":null},"y":{"field":"y","type":"quantitative","scale":{"domain":[-0.5,63.5],"reverse":true},"axis":null},"color":{"datum":1.33,"type":"quantitative","legend":null}}},
{"data":{"name":"tree"},"mark":{"type":"rule","color":"#4a62a8"},"encoding":{"x":{"field":"x","type":"quantitative","scale":{"domain":[-0.5,63.5]},"axis":null},"x2":{"field":"x2"},"y":{"field":"y","type":"quantitative","scale":{"domain":[-0.5,63.5],"reverse":true},"axis":null},"y2":{"field":"y2"},"size":{"field":"g","type":"ordinal","legend":null,"scale":{"type":"ordinal","domain":["0","1","2","3","4","5","6"],"range":[8,6,5,4,3,2.5,2]}}}}
]},
{"width":24,"height":154,"data":{"name":"bar"},"mark":{"type":"rect"},"encoding":{"y":{"field":"a","type":"quantitative","scale":{"domain":[0,1.6]},"axis":{"orient":"right","title":null,"values":[0,0.5,1,1.5],"format":"~g","labelOffset":4.5,"labelPadding":6}},"y2":{"field":"b"},"color":{"field":"v","type":"quantitative","legend":null,"scale":{"domain":[0,0.26,0.5,0.75,0.99,1.09,1.26,1.43,1.6],"range":["#0a0a0a","#40201f","#c82a30","#d8602c","#e0a040","#f0c030","#f7ea50","#f9f0a0","#fffff5"]}}}}
]}
